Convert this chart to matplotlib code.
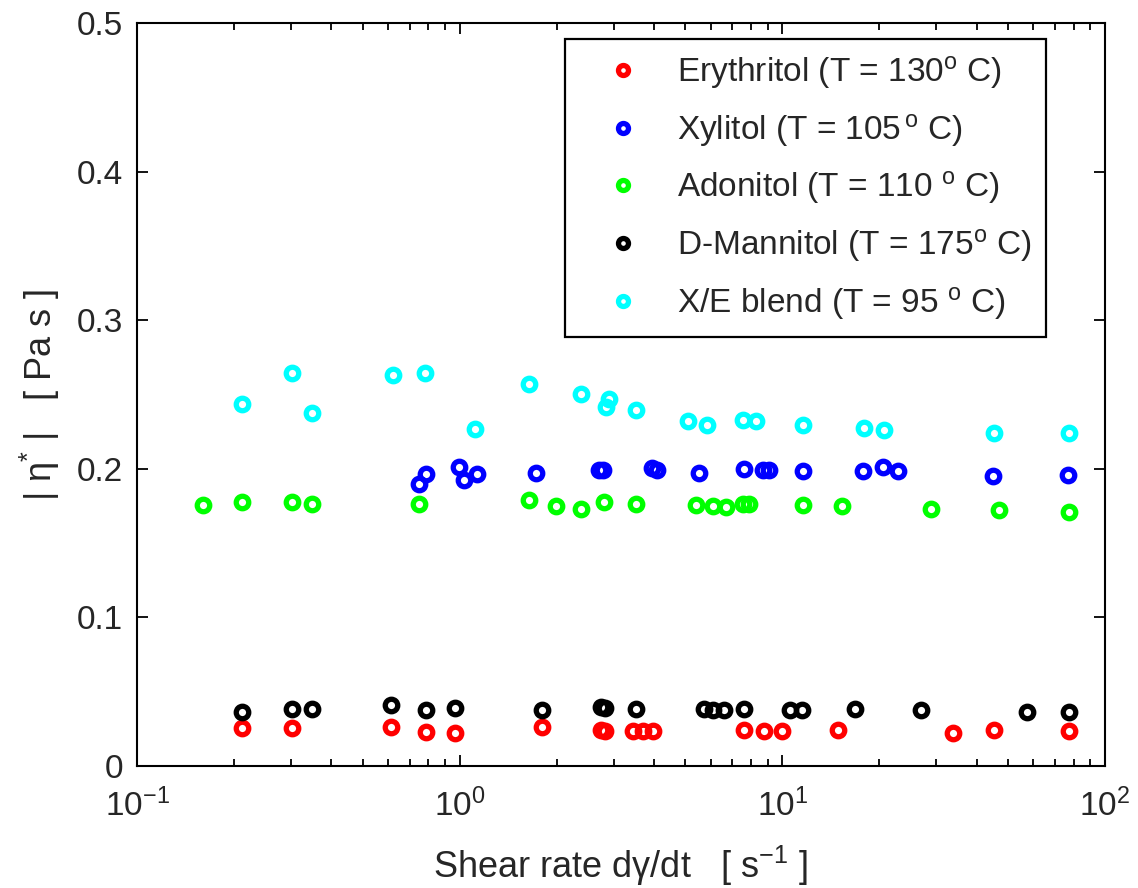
import matplotlib
matplotlib.use("Agg")
import matplotlib.pyplot as plt
from matplotlib.ticker import LogLocator, NullFormatter, FixedLocator

plt.rcParams['font.family'] = ['Liberation Sans', 'DejaVu Sans']
plt.rcParams['mathtext.fontset'] = 'custom'
plt.rcParams['mathtext.rm'] = 'Liberation Sans'
plt.rcParams['mathtext.it'] = 'Liberation Sans:italic'
plt.rcParams['mathtext.default'] = 'regular'
plt.rcParams['axes.unicode_minus'] = False

# Erythritol (red)
ery_x = [0.211, 0.303, 0.612, 0.785, 0.968, 1.80, 2.75, 2.83, 3.44, 3.69, 3.97,
         7.59, 8.79, 9.99, 14.9, 33.7, 45.2, 77.2]
ery_y = [0.0253, 0.0253, 0.0264, 0.0230, 0.0220, 0.0260, 0.0242, 0.0238, 0.0237, 0.0237, 0.0235,
         0.0242, 0.0235, 0.0235, 0.0242, 0.0220, 0.0245, 0.0235]

# Xylitol (blue)
xyl_x = [0.749, 0.785, 0.996, 1.03, 1.135, 1.72, 2.70, 2.78, 3.95, 4.08, 5.53,
         7.59, 8.7, 9.1, 11.6, 17.8, 20.5, 22.9, 44.9, 76.7]
xyl_y = [0.190, 0.1967, 0.2011, 0.1922, 0.1967, 0.1973, 0.1989, 0.1995, 0.2005, 0.1995, 0.1970,
         0.2000, 0.1989, 0.1995, 0.1985, 0.1985, 0.2011, 0.1985, 0.1949, 0.1956]

# Adonitol (green)
ado_x = [0.16, 0.211, 0.303, 0.348, 0.749, 1.643, 1.99, 2.376, 2.80, 3.52, 5.40,
         6.08, 6.69, 7.53, 7.89, 11.6, 15.3, 28.9, 46.9, 77.2]
ado_y = [0.1754, 0.1776, 0.1776, 0.1761, 0.1765, 0.1792, 0.1749, 0.1732, 0.1776, 0.1765, 0.1754,
         0.1749, 0.1742, 0.1765, 0.1765, 0.1754, 0.1749, 0.1732, 0.1725, 0.1709]

# D-Mannitol (black)
man_x = [0.211, 0.303, 0.348, 0.612, 0.785, 0.968, 1.80, 2.75, 2.83, 3.52, 5.7, 6.08,
         6.6, 7.6, 10.6, 11.5, 16.8, 26.9, 57.5, 77.2]
man_y = [0.0365, 0.0381, 0.0381, 0.0410, 0.0376, 0.0392, 0.0376, 0.0394, 0.0390, 0.0381, 0.0381, 0.0378,
         0.0378, 0.0381, 0.0376, 0.0376, 0.0381, 0.0376, 0.0365, 0.0365]

# X/E blend (cyan)
xe_x = [0.211, 0.303, 0.348, 0.621, 0.781, 1.117, 1.643, 2.376, 2.84, 2.91, 3.52,
        5.09, 5.83, 7.53, 8.29, 11.6, 17.9, 20.6, 45.2, 77.2]
xe_y = [0.2437, 0.2646, 0.2377, 0.2632, 0.2646, 0.2270, 0.2572, 0.2505, 0.2415, 0.2471, 0.2399,
        0.2321, 0.2292, 0.2330, 0.2319, 0.2296, 0.2276, 0.2258, 0.2240, 0.2240]

labels = ['Erythritol (T = 130$^{o}$ C)',
          'Xylitol (T = 105$^{\\,o}$ C)',
          'Adonitol (T = 110 $^{o}$ C)',
          'D-Mannitol (T = 175$^{o}$ C)',
          'X/E blend (T = 95 $^{o}$ C)']
colors = ['#ff0000', '#0000ff', '#00ff00', '#000000', '#00ffff']
xs_all = [ery_x, xyl_x, ado_x, man_x, xe_x]
ys_all = [ery_y, xyl_y, ado_y, man_y, xe_y]

TXT = '#262626'

fig = plt.figure(figsize=(11.38, 8.88), dpi=100)
ax = fig.add_axes([137/1138, 1 - 766/888, (1105-137)/1138, (766-23)/888])

for xs, ys, c, lab in zip(xs_all, ys_all, colors, labels):
    ax.plot(xs, ys, linestyle='none', marker='o', markersize=9,
            markerfacecolor='none', markeredgecolor=c, markeredgewidth=3.8, label=lab)

ax.set_xscale('log')
ax.set_xlim(0.1, 100)
ax.set_ylim(0, 0.5)
ax.yaxis.set_major_locator(FixedLocator([0, 0.1, 0.2, 0.3, 0.4, 0.5]))
ax.set_yticklabels(['0', '0.1', '0.2', '0.3', '0.4', '0.5'])
ax.xaxis.set_major_locator(LogLocator(base=10, numticks=10))
ax.xaxis.set_minor_locator(LogLocator(base=10, subs=range(2, 10), numticks=20))
ax.xaxis.set_minor_formatter(NullFormatter())

ax.tick_params(which='both', direction='in', top=True, right=True, labelsize=24,
               width=1.3, labelcolor=TXT)
ax.tick_params(which='major', length=8)
ax.tick_params(which='minor', length=5)
ax.tick_params(axis='x', which='major', pad=16)
ax.tick_params(axis='y', which='major', pad=10)
for s in ax.spines.values():
    s.set_linewidth(1.5)

ax.set_xlabel('Shear rate d$\\gamma$/dt   [ s$^{-1}$ ]', fontsize=26, color=TXT, labelpad=15)
ax.set_ylabel('| $\\eta^{*}$ |   [ Pa s ]', fontsize=26, color=TXT, labelpad=11)

leg = ax.legend(loc='upper left', bbox_to_anchor=((565-137)/968, (766-39)/743), fontsize=24,
                frameon=True, fancybox=False, edgecolor='black', framealpha=1,
                handlelength=2.6, handletextpad=0.3, labelspacing=0.62,
                borderpad=0.45, borderaxespad=0, markerscale=0.8)
leg.get_frame().set_linewidth(1.6)
for t in leg.get_texts():
    t.set_color(TXT)

fig.savefig('out.png', dpi=100)
